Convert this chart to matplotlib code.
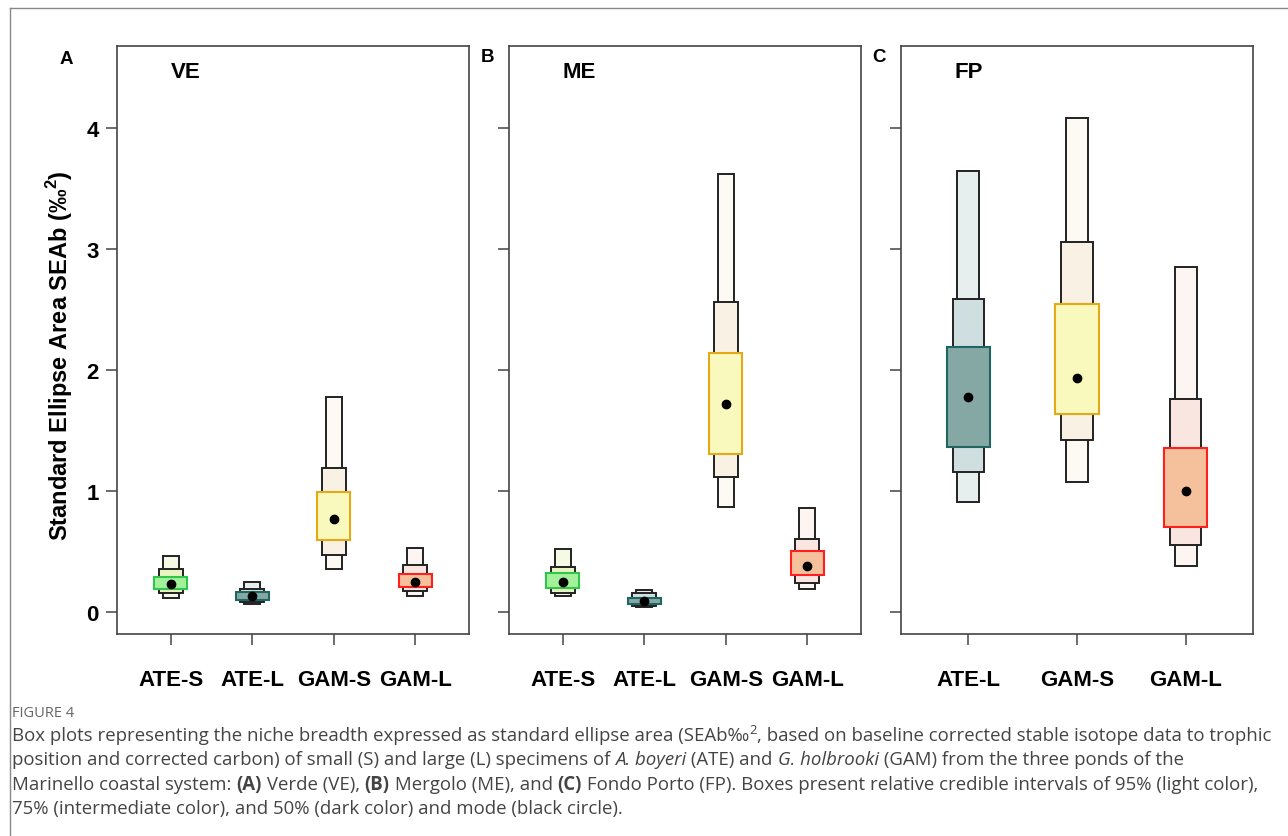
import matplotlib
matplotlib.use("Agg")
import matplotlib.pyplot as plt
from matplotlib.transforms import IdentityTransform

W, H = 1288, 837

# standard ellipse area (SEAb, permil^2): (low, high) credible limits and mode
ve_groups = ["ATE-S", "ATE-L", "GAM-S", "GAM-L"]
ve_95 = [(0.118, 0.465), (0.066, 0.25), (0.355, 1.775), (0.135, 0.529)]
ve_75 = [(0.163, 0.355), (0.085, 0.196), (0.474, 1.196), (0.176, 0.391)]
ve_50 = [(0.19, 0.295), (0.10, 0.171), (0.595, 0.99), (0.209, 0.32)]
ve_mode = [0.237, 0.13, 0.774, 0.25]

me_groups = ["ATE-S", "ATE-L", "GAM-S", "GAM-L"]
me_95 = [(0.135, 0.526), (0.047, 0.18), (0.87, 3.62), (0.19, 0.865)]
me_75 = [(0.163, 0.375), (0.052, 0.155), (1.12, 2.565), (0.245, 0.603)]
me_50 = [(0.204, 0.322), (0.066, 0.116), (1.306, 2.146), (0.306, 0.505)]
me_mode = [0.25, 0.093, 1.72, 0.383]

fp_groups = ["ATE-L", "GAM-S", "GAM-L"]
fp_95 = [(0.907, 3.647), (1.08, 4.083), (0.378, 2.857)]
fp_75 = [(1.155, 2.587), (1.421, 3.06), (0.556, 1.76)]
fp_50 = [(1.369, 2.193), (1.636, 2.545), (0.705, 1.361)]
fp_mode = [1.78, 1.934, 1.0]

# light, intermediate, dark fill, dark edge
colors = {
    "ATE-S": ("#f4fae4", "#e9f4c2", "#a4f19c", "#2fc64a"),
    "ATE-L": ("#e6efee", "#cfdfdf", "#86a8a4", "#1f6663"),
    "GAM-S": ("#fcfaf3", "#f9f1e3", "#f9f9bd", "#e4a915"),
    "GAM-L": ("#fdf5f2", "#f9e6e0", "#f5c09c", "#ff1f1f"),
}

SANS = ["Liberation Sans", "DejaVu Sans"]
CAP = ["Open Sans", "DejaVu Sans"]
plt.rcParams["font.family"] = SANS
plt.rcParams["mathtext.fontset"] = "custom"
plt.rcParams["mathtext.bf"] = "Liberation Sans:bold"
plt.rcParams["mathtext.rm"] = "Liberation Sans"

fig = plt.figure(figsize=(W / 100, H / 100), dpi=100)


def draw_panel(ax, groups, b95, b75, b50, modes, name, show_y):
    xs = list(range(1, len(groups) + 1))
    for i, g in enumerate(groups):
        c95, c75, c50, edge = colors[g]
        x = xs[i]
        ax.bar(x, b95[i][1] - b95[i][0], bottom=b95[i][0], width=0.2,
               color=c95, edgecolor="#222222", linewidth=1.4, zorder=2)
        ax.bar(x, b75[i][1] - b75[i][0], bottom=b75[i][0], width=0.29,
               color=c75, edgecolor="#222222", linewidth=1.4, zorder=3)
        ax.bar(x, b50[i][1] - b50[i][0], bottom=b50[i][0], width=0.4,
               color=c50, edgecolor=edge, linewidth=1.5, zorder=4)
    ax.plot(xs, modes, "o", color="black", ms=6, zorder=5)
    n = len(groups)
    ax.set_xlim(0.5 - 0.04 * n, n + 0.5 + 0.04 * n)
    ax.set_ylim(-0.18, 4.68)
    ax.set_xticks(xs, groups, fontsize=16, fontweight="bold")
    ax.set_yticks([0, 1, 2, 3, 4])
    if show_y:
        ax.set_yticklabels(["0", "1", "2", "3", "4"], fontsize=16, fontweight="bold")
    else:
        ax.set_yticklabels([])
    ax.tick_params(axis="x", length=8, width=1.1, color="#444444", pad=17)
    ax.tick_params(axis="y", length=8, width=1.1, color="#444444", pad=5)
    for s in ax.spines.values():
        s.set_color("#444444")
        s.set_linewidth(1.2)
    ax.text(0.152, 0.956, name, transform=ax.transAxes, fontsize=16,
            fontweight="bold", ha="left", va="center")


bottom = 1 - 635 / H
height = 588 / H
ax_a = fig.add_axes([117 / W, bottom, 352 / W, height])
ax_b = fig.add_axes([509 / W, bottom, 352 / W, height])
ax_c = fig.add_axes([901 / W, bottom, 352 / W, height])
draw_panel(ax_a, ve_groups, ve_95, ve_75, ve_50, ve_mode, "VE", True)
draw_panel(ax_b, me_groups, me_95, me_75, me_50, me_mode, "ME", False)
draw_panel(ax_c, fp_groups, fp_95, fp_75, fp_50, fp_mode, "FP", False)

for letter, px, py in [("A", 66, 60), ("B", 488, 58), ("C", 879, 58)]:
    fig.text(px / W, 1 - py / H, letter, fontsize=13.5, fontweight="bold",
             ha="center", va="center")

fig.text(60 / W, 1 - 356 / H, r"Standard Ellipse Area SEAb (‰$^{\mathbf{2}}$)",
         rotation=90, fontsize=17, fontweight="bold", ha="center", va="center")

# outer frame of the figure
fig.add_artist(plt.Line2D([10 / W, 10 / W], [0, 1 - 9 / H], transform=fig.transFigure,
                          color="#888888", lw=1))
fig.add_artist(plt.Line2D([10 / W, 1], [1 - 9 / H, 1 - 9 / H], transform=fig.transFigure,
                          color="#888888", lw=1))

# caption
renderer = fig.canvas.get_renderer()
CAP_SIZE = 13.4
CAP_COLOR = "#444444"


def run_width(txt, **kw):
    a = fig.text(0, 0, "X" + txt + "X", transform=IdentityTransform(), **kw)
    b = fig.text(0, 0, "XX", transform=IdentityTransform(), **kw)
    w = a.get_window_extent(renderer).width - b.get_window_extent(renderer).width
    a.remove()
    b.remove()
    return w


def draw_runs(x, y, runs):
    for txt, style in runs:
        kw = dict(family=CAP, fontsize=CAP_SIZE, color=CAP_COLOR)
        dy = 0
        if style == "i":
            kw["style"] = "italic"
        elif style == "b":
            kw["weight"] = "bold"
        elif style == "sup":
            kw["fontsize"] = CAP_SIZE * 0.7
            dy = 7
        fig.text(x, H - y + dy, txt, transform=IdentityTransform(), va="baseline", **kw)
        x += run_width(txt, **kw)


fig.text(12, H - 717, "FIGURE 4", transform=IdentityTransform(), family=CAP,
         fontsize=10.5, color="#666666", va="baseline")
lines = [
    [("Box plots representing the niche breadth expressed as standard ellipse area (SEAb‰", ""),
     ("2", "sup"), (", based on baseline corrected stable isotope data to trophic", "")],
    [("position and corrected carbon) of small (S) and large (L) specimens of ", ""),
     ("A. boyeri", "i"), (" (ATE) and ", ""), ("G. holbrooki", "i"),
     (" (GAM) from the three ponds of the", "")],
    [("Marinello coastal system: ", ""), ("(A)", "b"), (" Verde (VE), ", ""), ("(B)", "b"),
     (" Mergolo (ME), and ", ""), ("(C)", "b"),
     (" Fondo Porto (FP). Boxes present relative credible intervals of 95% (light color),", "")],
    [("75% (intermediate color), and 50% (dark color) and mode (black circle).", "")],
]
for k, runs in enumerate(lines):
    draw_runs(12, 741 + 24.5 * k, runs)

fig.savefig("out.png", dpi=100)
